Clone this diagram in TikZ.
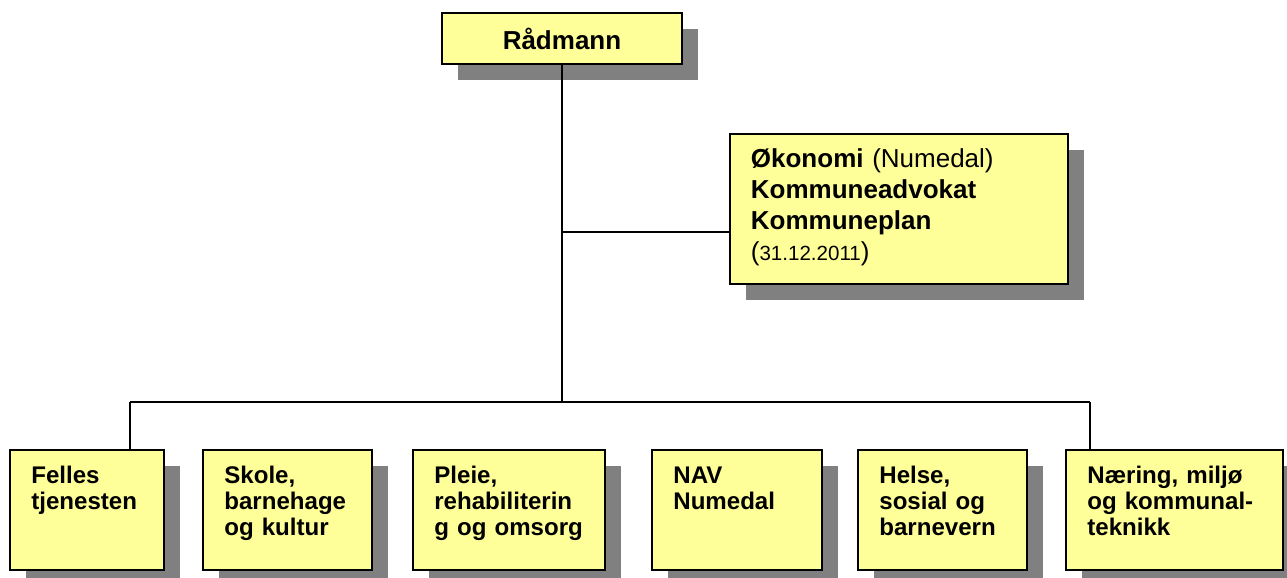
\documentclass[tikz,border=0pt]{standalone}
\usepackage{fontspec}
\setmainfont{Liberation Sans}
\usetikzlibrary{positioning,shadows}

\definecolor{boxyellow}{HTML}{FFFF99}
\definecolor{shadowgray}{HTML}{808080}

\begin{document}
\begin{tikzpicture}[
  font=\bfseries,
  box/.style={draw, line width=1pt, fill=boxyellow,
    drop shadow={shadow xshift=0.32cm, shadow yshift=-0.32cm, fill=shadowgray, opacity=1}},
  unit/.style={box, anchor=north west, align=left, inner xsep=0.43cm, inner ysep=0pt,
    text height=0.68cm, text depth=1.72cm, text width=#1-0.86cm,
    font=\fontsize{13.7}{14.8}\selectfont\bfseries},
  link/.style={draw, line width=0.85pt}
]
\useasboundingbox (0,0) rectangle (25.74,11.56);

% Top of the chart
\node[box, minimum width=4.8cm, minimum height=1.02cm, inner sep=0pt,
  font=\fontsize{14.8}{17}\selectfont\bfseries] (chief) at (11.24,10.79) {Rådmann};

% Staff box at the side
\node[box, anchor=north west, align=left, inner xsep=0.42cm, inner ysep=0pt,
  text height=0.68cm, text depth=2.32cm, text width=5.92cm,
  font=\fontsize{14.8}{17.6}\selectfont] (staff) at (14.58,8.90)
  {\textbf{Økonomi} (Numedal)\\
   \textbf{Kommuneadvokat}\\
   \textbf{Kommuneplan}\\
   ({\fontsize{11.7}{17.6}\selectfont 31.12.2011})};

% Units on the bottom row
\node[unit=3.08cm] (felles)  at (0.18,2.58)  {Felles\\tjenesten};
\node[unit=3.38cm] (skole)   at (4.04,2.58)  {Skole,\\barnehage\\og kultur};
\node[unit=3.84cm] (pleie)   at (8.24,2.58)  {Pleie,\\rehabiliterin\\g og omsorg};
\node[unit=3.40cm] (nav)     at (13.02,2.58) {NAV\\Numedal};
\node[unit=3.38cm] (helse)   at (17.14,2.58) {Helse,\\sosial og\\barnevern};
\node[unit=4.34cm] (naering) at (21.30,2.58) {Næring, miljø\\og kommunal-\\teknikk};

% Lines
\coordinate (staffjoin) at (11.24,6.92);
\coordinate (busL) at (2.60,3.52);
\coordinate (busR) at (21.80,3.52);

\draw[link] (chief.south) -- (chief.south |- busL);
\draw[link] (staffjoin) -- (staffjoin -| staff.west);
\draw[link] (busL) -- (busR);
\draw[link] (busL) -- (busL |- felles.north);
\draw[link] (busR) -- (busR |- naering.north);
\end{tikzpicture}
\end{document}
